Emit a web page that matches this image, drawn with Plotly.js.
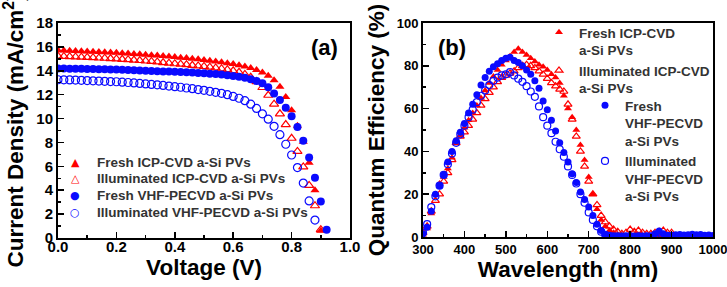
<!DOCTYPE html>
<html>
<head>
<meta charset="utf-8">
<script src="https://cdn.plot.ly/plotly-3.0.1.min.js"></script>
<style>
  html, body { margin: 0; padding: 0; background: #fff; }
  #chart { width: 727px; height: 287px; }
</style>
</head>
<body>
<div id="chart"></div>
<script>
// ---- (a) J-V curves ----
const voltage = [0.00,0.02,0.04,0.06,0.08,0.10,0.12,0.14,0.16,0.18,
                 0.20,0.22,0.24,0.26,0.28,0.30,0.32,0.34,0.36,0.38,
                 0.40,0.42,0.44,0.46,0.48,0.50,0.52,0.54,0.56,0.58,
                 0.60,0.62,0.64,0.66,0.68,0.70,0.72,0.74,0.76,0.78,
                 0.80,0.82,0.84,0.86,0.88,0.90,0.92];

const jFreshICP = [15.72,15.70,15.68,15.66,15.64,15.62,15.60,15.57,15.55,15.52,
                   15.50,15.47,15.44,15.41,15.38,15.34,15.31,15.27,15.23,15.19,
                   15.15,15.10,15.06,15.01,14.96,14.90,14.85,14.78,14.72,14.64,
                   14.56,14.47,14.36,14.23,14.07,13.86,13.58,13.20,12.66,11.80,
                   10.70,9.40,8.05,6.30,4.00,0.60];

const jIllumICP = [15.22,15.20,15.18,15.16,15.14,15.12,15.10,15.07,15.05,15.02,
                   14.99,14.96,14.93,14.90,14.86,14.82,14.78,14.74,14.69,14.64,
                   14.59,14.55,14.51,14.46,14.41,14.36,14.30,14.24,14.17,14.09,
                   14.00,13.87,13.70,13.45,13.10,12.60,11.95,11.20,10.40,9.50,
                   8.35,7.25,5.95,4.40,2.70,0.70];

const jFreshVHF = [14.20,14.19,14.18,14.17,14.16,14.15,14.14,14.13,14.12,14.11,
                   14.10,14.08,14.07,14.05,14.03,14.01,13.99,13.97,13.95,13.93,
                   13.91,13.89,13.87,13.85,13.82,13.79,13.76,13.72,13.68,13.63,
                   13.57,13.50,13.41,13.30,13.15,12.95,12.62,12.10,11.55,10.90,
                   10.20,9.30,8.15,6.75,5.05,3.05,0.70];

const jIllumVHF = [13.25,13.24,13.23,13.22,13.20,13.18,13.16,13.14,13.12,13.10,
                   13.08,13.05,13.02,12.98,12.94,12.90,12.86,12.82,12.77,12.72,
                   12.67,12.62,12.56,12.50,12.43,12.36,12.28,12.20,12.11,12.00,
                   11.85,11.70,11.50,11.20,10.85,10.40,9.95,9.35,8.65,7.85,
                   6.95,5.90,4.60,3.10,1.50];

// ---- (b) quantum efficiency spectra ----
const wavelength = [300,310,320,330,340,350,360,370,380,390,
                    400,410,420,430,440,450,460,470,480,490,
                    500,510,520,530,540,550,560,570,580,590,
                    600,610,620,630,640,650,660,670,680,690,
                    700,710,720,730,740,750,760,770,780,790,
                    800,810,820,830,840,850,860,870,880,890,
                    900,910,920,930,940,950,960,970,980,990,1000];

const qeFreshICP = [1.0,4.0,11.0,20.0,25.0,28.0,32.0,37.0,44.0,47.5,
                    51.0,54.5,58.0,61.5,65.0,68.5,72.0,75.0,78.0,80.5,
                    82.5,84.5,86.5,88.0,86.5,85.0,83.5,82.0,80.5,79.5,
                    78.0,76.0,74.5,72.0,66.0,60.0,56.0,50.0,43.0,36.0,
                    28.0,20.0,13.0,8.0,5.0,3.0,2.0,1.2,0.6,0.5,
                    0.5,0.4,0.5,0.4,0.5,0.4,0.5,0.6,0.5,0.4,0.5];

const qeIllumICP = [2.0,5.0,12.0,17.0,20.0,26.0,30.0,36.0,44.0,47.0,
                    49.0,52.0,55.0,58.0,61.5,64.5,67.5,70.0,72.5,74.5,
                    75.5,76.5,77.5,79.0,80.0,80.5,80.0,79.0,77.5,76.0,
                    74.0,72.0,70.5,69.0,68.0,62.0,55.0,47.0,40.0,33.0,
                    26.0,20.0,15.0,10.0,7.0,5.0,3.5,2.5,1.5,2.0,
                    3.5,2.5,3.0,2.0,1.5,1.5,2.0,2.5,3.0,2.0,2.0];

const qeFreshVHF = [1.5,4.5,12.0,20.0,24.0,29.0,35.0,40.0,45.0,49.0,
                    53.0,58.0,62.0,66.5,71.0,74.5,77.5,79.5,81.0,82.5,
                    83.5,84.0,82.5,81.5,80.0,78.0,76.0,73.0,69.5,63.5,
                    59.5,54.5,49.5,44.0,39.5,35.0,29.5,25.5,21.0,17.5,
                    14.0,10.0,6.0,3.0,1.0,0.3,0.2,0.2,0.3,0.2,
                    0.3,0.2,0.3,0.4,0.3,0.5,1.5,2.8,1.5,0.8,
                    0.8,1.0,1.2,0.9,1.1,1.3,1.0,1.2,0.8,0.9,0.7];

const qeIllumVHF = [2.0,6.0,14.0,19.0,24.0,29.0,34.0,39.0,44.0,48.0,
                    52.0,56.0,59.5,63.0,66.0,68.5,71.0,73.0,74.5,75.5,
                    76.0,77.0,75.5,74.0,72.5,70.5,68.0,65.5,61.0,56.0,
                    52.0,48.5,44.5,41.0,37.5,33.0,29.0,25.0,20.0,16.0,
                    11.5,8.0,5.0,2.5,1.0,0.5,0.3,0.3,0.2,0.3,
                    0.3,0.2,0.3,0.2,0.3,0.2,0.4,0.6,0.4,0.3,0.3];

const namesA = ['Fresh ICP-CVD a-Si PVs', 'Illuminated ICP-CVD a-Si PVs',
                'Fresh VHF-PECVD a-Si PVs', 'Illuminated VHF-PECVD a-Si PVs'];
const namesB = ['Fresh ICP-CVD<br>a-Si PVs', 'Illuminated ICP-CVD<br>a-Si PVs',
                'Fresh<br>VHF-PECVD<br>a-Si PVs', 'Illuminated<br>VHF-PECVD<br>a-Si PVs'];

const RED = '#ff0000';
const BLUE = '#0a0aff';
const styles = [
  {symbol: 'triangle-up', color: RED, open: false, glyph: '\u25B2'},
  {symbol: 'triangle-up-open', color: RED, open: true, glyph: '\u25B3'},
  {symbol: 'circle', color: BLUE, open: false, glyph: '\u25CF'},
  {symbol: 'circle-open', color: BLUE, open: true, glyph: '\u25CB'}
];

function series(x, y, name, st, size, xa, ya, legend, show) {
  return {
    x: x.slice(0, y.length), y: y, name: name, type: 'scatter', mode: 'markers',
    xaxis: xa, yaxis: ya, legend: legend, showlegend: show,
    marker: {symbol: st.symbol, size: size, color: st.color,
             line: {color: st.color, width: st.open ? 1.2 : 0}}
  };
}

const seriesA = [jFreshICP, jIllumICP, jFreshVHF, jIllumVHF];
const seriesB = [qeFreshICP, qeIllumICP, qeFreshVHF, qeIllumVHF];
const traces = [];
seriesA.forEach((s, i) => traces.push(series(voltage, s, namesA[i], styles[i], 8, 'x', 'y', 'legend', false)));
seriesB.forEach((s, i) => traces.push(series(wavelength, s, namesB[i], styles[i], 7, 'x2', 'y2', i < 2 ? 'legend2' : 'legend3', true)));

const FONT = 'Arial, "Liberation Sans", sans-serif';
const W = 727, H = 287;
const px = v => v / W;
const py = v => 1 - v / H;

function axis(extra) {
  return Object.assign({
    showline: true, linewidth: 2, linecolor: '#000', mirror: true,
    showgrid: false, zeroline: false,
    ticks: 'inside', ticklen: 6, tickwidth: 1.5, tickcolor: '#000',
    tickfont: {family: FONT, size: 15, weight: 'bold', color: '#000'},
    ticklabeloverflow: 'allow'
  }, extra);
}
const titleFont = {family: FONT, size: 22.5, weight: 'bold', color: '#000'};
const legendFont = {family: FONT, size: 13.5, weight: 'bold', color: '#333'};

// compact key for panel (a): symbol column + label column, one row per series
const keyRows = [162, 178, 195, 212];
const keyAnnotations = [];
namesA.forEach((name, i) => {
  keyAnnotations.push({
    text: styles[i].glyph, xref: 'paper', yref: 'paper', x: px(75), y: py(keyRows[i]),
    xanchor: 'center', yanchor: 'middle', showarrow: false,
    font: {family: '"DejaVu Sans"', size: 11, color: styles[i].color}
  });
  keyAnnotations.push({
    text: name, xref: 'paper', yref: 'paper', x: px(95), y: py(keyRows[i]),
    xanchor: 'left', yanchor: 'middle', showarrow: false, font: legendFont
  });
});

const layout = {
  width: W, height: H,
  margin: {l: 0, r: 0, t: 0, b: 0},
  paper_bgcolor: '#fff', plot_bgcolor: '#fff',
  showlegend: true,
  xaxis: axis({domain: [px(58), px(350)], anchor: 'y', range: [0, 1], dtick: 0.2, tickformat: '.1f',
               ticklabelstandoff: -6,
               minor: {ticks: 'inside', dtick: 0.1, ticklen: 3, tickwidth: 1.5, tickcolor: '#000'},
               title: {text: 'Voltage (V)', font: titleFont, standoff: 5}}),
  yaxis: axis({domain: [py(238), py(23)], anchor: 'x', range: [0, 18], dtick: 2,
               ticklabelstandoff: 0,
               minor: {ticks: 'inside', dtick: 1, ticklen: 3, tickwidth: 1.5, tickcolor: '#000'},
               title: {text: 'Current Density (mA/cm<sup>2</sup>)', font: titleFont, standoff: 6}}),
  xaxis2: axis({domain: [px(423), px(713)], anchor: 'y2', range: [300, 1000], dtick: 100,
                ticklabelstandoff: -1,
                tickfont: {family: FONT, size: 13, weight: 'bold', color: '#000'},
                minor: {ticks: 'inside', dtick: 50, ticklen: 3, tickwidth: 1.5, tickcolor: '#000'},
                title: {text: 'Wavelength (nm)', font: titleFont, standoff: 2}}),
  yaxis2: axis({domain: [py(237), py(23)], anchor: 'x2', range: [0, 100], dtick: 20,
                ticklabelstandoff: 0,
                tickfont: {family: FONT, size: 13, weight: 'bold', color: '#000'},
                minor: {ticks: 'inside', dtick: 10, ticklen: 3, tickwidth: 1.5, tickcolor: '#000'},
                title: {text: 'Quantum Efficiency (%)', font: titleFont, standoff: 6}}),
  legend2: {x: px(539), y: py(17), xanchor: 'left', yanchor: 'top', bgcolor: 'rgba(0,0,0,0)',
            borderwidth: 0, font: legendFont, valign: 'top', tracegroupgap: 0},
  legend3: {x: px(585), y: py(90), xanchor: 'left', yanchor: 'top', bgcolor: 'rgba(0,0,0,0)',
            borderwidth: 0, font: legendFont, valign: 'top', tracegroupgap: 0},
  annotations: keyAnnotations.concat([
    {text: '(a)', xref: 'paper', yref: 'paper', x: px(324), y: py(48), showarrow: false,
     xanchor: 'center', yanchor: 'middle', font: {family: FONT, size: 22, weight: 'bold', color: '#000'}},
    {text: '(b)', xref: 'paper', yref: 'paper', x: px(452), y: py(48), showarrow: false,
     xanchor: 'center', yanchor: 'middle', font: {family: FONT, size: 22, weight: 'bold', color: '#000'}}
  ])
};

Plotly.newPlot('chart', traces, layout, {displayModeBar: false, staticPlot: true});
</script>
</body>
</html>
